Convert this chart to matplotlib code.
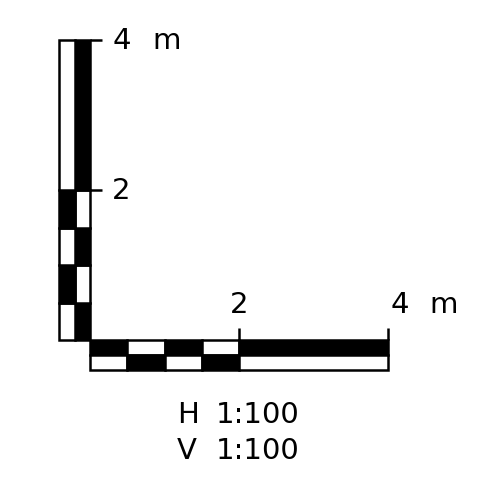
import matplotlib
matplotlib.use("Agg")
import matplotlib.pyplot as plt

# scale divisions in metres (fine part 0-2 m, coarse part 2-4 m)
h_divisions = [0.0, 0.5, 1.0, 1.5, 2.0, 4.0]
v_divisions = [0.0, 0.5, 1.0, 1.5, 2.0, 4.0]
h_labels = [2, 4]
v_labels = [2, 4]
unit = "m"
scale_lines = [("H", "1:100"), ("V", "1:100")]

BAR = 0.2      # thickness of one row of the bar (m)
TICK = 0.16
LW = 1.8
FS = 21

fig = plt.figure(figsize=(4.81, 4.88), dpi=100)
ax = fig.add_axes([0, 0, 1, 1])
ax.set_xlim(-90 / 74.5, 391 / 74.5)
ax.set_ylim(-148 / 75, 340 / 75)
ax.axis("off")


def colours(i, n):
    # the last (coarse) segment follows the first one
    inner = "black" if (i % 2 == 0 or i == n - 1) else "white"
    outer = "white" if inner == "black" else "black"
    return inner, outer


# horizontal bar, below the x axis; inner row on top
n = len(h_divisions) - 1
for i in range(n):
    x0, x1 = h_divisions[i], h_divisions[i + 1]
    inner, outer = colours(i, n)
    ax.bar(x0, BAR, width=x1 - x0, bottom=-BAR, align="edge",
           color=inner, edgecolor="black", linewidth=LW)
    ax.bar(x0, BAR, width=x1 - x0, bottom=-2 * BAR, align="edge",
           color=outer, edgecolor="black", linewidth=LW)

# vertical bar, left of the y axis; inner column on the right
n = len(v_divisions) - 1
for i in range(n):
    y0, y1 = v_divisions[i], v_divisions[i + 1]
    inner, outer = colours(i, n)
    ax.barh(y0, BAR * 1.03, height=y1 - y0, left=-BAR * 1.03, align="edge",
            color=inner, edgecolor="black", linewidth=LW)
    ax.barh(y0, BAR * 1.03, height=y1 - y0, left=-2 * BAR * 1.03, align="edge",
            color=outer, edgecolor="black", linewidth=LW)

# ticks and labels
for v in h_labels:
    ax.plot([v, v], [0, TICK], color="black", lw=LW, solid_capstyle="butt")
    if v == h_labels[-1]:
        ax.text(v + 0.04, 0.36, str(v), ha="left", va="baseline", fontsize=FS)
    else:
        ax.text(v, 0.36, str(v), ha="center", va="baseline", fontsize=FS)
for v in v_labels:
    ax.plot([0, TICK], [v, v], color="black", lw=LW, solid_capstyle="butt")
    ax.text(0.30, v - 0.12, str(v), ha="left", va="baseline", fontsize=FS)

ax.text(h_labels[-1] + 0.56, 0.36, unit, ha="left", va="baseline", fontsize=FS)
ax.text(0.84, v_labels[-1] - 0.12, unit, ha="left", va="baseline", fontsize=FS)

for k, (axis_name, ratio) in enumerate(scale_lines):
    y = -1.107 - k * 0.475
    ax.text(1.17, y, axis_name, ha="left", va="baseline", fontsize=FS)
    ax.text(1.69, y, ratio, ha="left", va="baseline", fontsize=FS)

fig.savefig("out.png", dpi=100, facecolor="white")
